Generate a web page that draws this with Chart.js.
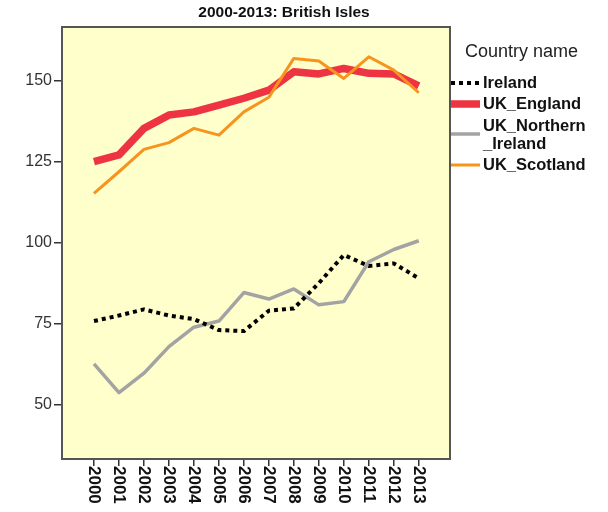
<!DOCTYPE html>
<html>
<head>
<meta charset="utf-8">
<script src="https://cdn.jsdelivr.net/npm/chart.js@4"></script>
<style>
  body { margin: 0; background: #fff; }
  canvas { display: block; }
</style>
</head>
<body>
<canvas id="chart" width="608" height="512"></canvas>
<script>
'use strict';

/* ─── data ─── */
var years = [2000, 2001, 2002, 2003, 2004, 2005, 2006, 2007, 2008, 2009, 2010, 2011, 2012, 2013];
var ireland   = [75.9, 77.6, 79.5, 77.6, 76.5, 73.1, 72.8, 79.1, 79.8, 87.6, 96.3, 92.9, 93.7, 89.1];
var england   = [125.1, 127.2, 135.4, 139.5, 140.5, 142.6, 144.7, 147.2, 152.9, 152.2, 153.9, 152.4, 152.2, 148.5];
var nIreland  = [62.7, 53.8, 59.8, 68.0, 74.0, 75.9, 84.7, 82.7, 85.8, 80.9, 81.9, 94.2, 98.0, 100.7];
var scotland  = [115.3, 122.0, 128.9, 131.0, 135.4, 133.3, 140.5, 145.0, 157.0, 156.2, 150.8, 157.5, 153.4, 146.4];
var yTicks = [50, 75, 100, 125, 150];

var chartTitle = '2000-2013: British Isles';
var legendTitle = 'Country name';
var legendLabels = [['Ireland'], ['UK_England'], ['UK_Northern', '_Ireland'], ['UK_Scotland']];

var FONT = "'Liberation Sans', Arial, sans-serif";

function toPoints(vals) {
  var pts = [];
  for (var i = 0; i < years.length; i++) pts.push({ x: years[i], y: vals[i] });
  return pts;
}

/* ─── 배경, 테두리, 제목, 범례, x 라벨 ─── */
var decorPlugin = {
  id: 'decor',
  beforeDraw: function (chart) {
    var a = chart.chartArea, ctx = chart.ctx;
    ctx.save();
    ctx.fillStyle = '#ffffcc';
    ctx.fillRect(a.left, a.top, a.right - a.left, a.bottom - a.top);
    ctx.restore();
  },
  afterDraw: function (chart) {
    var a = chart.chartArea, ctx = chart.ctx;
    ctx.save();

    // plot border
    ctx.strokeStyle = '#555';
    ctx.lineWidth = 2;
    ctx.strokeRect(a.left, a.top, a.right - a.left, a.bottom - a.top);

    // title
    ctx.fillStyle = '#111';
    ctx.font = 'bold 15.5px ' + FONT;
    ctx.textAlign = 'center';
    ctx.textBaseline = 'middle';
    ctx.fillText(chartTitle, 284, 13);

    // x tick labels, rotated clockwise
    var xs = chart.scales.x;
    ctx.font = 'bold 17px ' + FONT;
    ctx.textAlign = 'left';
    for (var i = 0; i < years.length; i++) {
      var px = xs.getPixelForValue(years[i]);
      ctx.save();
      ctx.translate(px, a.bottom + 7);
      ctx.rotate(Math.PI / 2);
      ctx.fillText(String(years[i]), 0, 0);
      ctx.restore();
    }

    // legend
    ctx.font = '18px ' + FONT;
    ctx.fillStyle = '#222';
    ctx.textAlign = 'left';
    ctx.fillText(legendTitle, 465, 52);

    var rowY = [83, 104, 134, 165];
    var ds = chart.data.datasets;
    ctx.font = 'bold 16.5px ' + FONT;
    for (var j = 0; j < ds.length; j++) {
      var y = rowY[j];
      ctx.save();
      ctx.strokeStyle = ds[j].borderColor;
      ctx.lineWidth = ds[j].borderWidth;
      ctx.setLineDash(ds[j].borderDash || []);
      ctx.beginPath();
      ctx.moveTo(451, y);
      ctx.lineTo(480, y);
      ctx.stroke();
      ctx.restore();

      ctx.fillStyle = '#111';
      var lines = legendLabels[j];
      if (lines.length === 1) {
        ctx.fillText(lines[0], 483, y);
      } else {
        ctx.fillText(lines[0], 483, y - 8);
        ctx.fillText(lines[1], 483, y + 10);
      }
    }
    ctx.restore();
  }
};

new Chart(document.getElementById('chart'), {
  type: 'line',
  data: {
    datasets: [
      { data: toPoints(ireland), borderColor: '#000000', borderWidth: 4, borderDash: [4, 4], borderCapStyle: 'butt', order: 1 },
      { data: toPoints(england), borderColor: '#ee3342', borderWidth: 7.5, order: 3 },
      { data: toPoints(nIreland), borderColor: '#a3a3a3', borderWidth: 3.5, order: 2 },
      { data: toPoints(scotland), borderColor: '#f7941d', borderWidth: 3, order: 0 }
    ]
  },
  options: {
    responsive: false,
    animation: false,
    events: [],
    elements: {
      point: { radius: 0 },
      line: { tension: 0, fill: false, borderJoinStyle: 'round' }
    },
    layout: { padding: { left: 0, right: 158, top: 27, bottom: 0 } },
    plugins: {
      legend: { display: false },
      title: { display: false },
      tooltip: { enabled: false }
    },
    scales: {
      x: {
        type: 'linear',
        min: 1998.72,
        max: 2014.25,
        afterBuildTicks: function (scale) {
          scale.ticks = years.map(function (v) { return { value: v }; });
        },
        afterFit: function (scale) { scale.height = 53; },
        ticks: { display: false },
        border: { display: false },
        grid: { drawOnChartArea: false, drawTicks: true, tickLength: 7, color: '#333', lineWidth: 1.5 }
      },
      y: {
        min: 33.3,
        max: 166.7,
        afterBuildTicks: function (scale) {
          scale.ticks = yTicks.map(function (v) { return { value: v }; });
        },
        afterFit: function (scale) { scale.width = 62; },
        ticks: { color: '#333', font: { family: FONT, size: 16 }, padding: 2 },
        border: { display: false },
        grid: { drawOnChartArea: false, drawTicks: true, tickLength: 8, color: '#333', lineWidth: 1.5 }
      }
    }
  },
  plugins: [decorPlugin]
});
</script>
</body>
</html>
